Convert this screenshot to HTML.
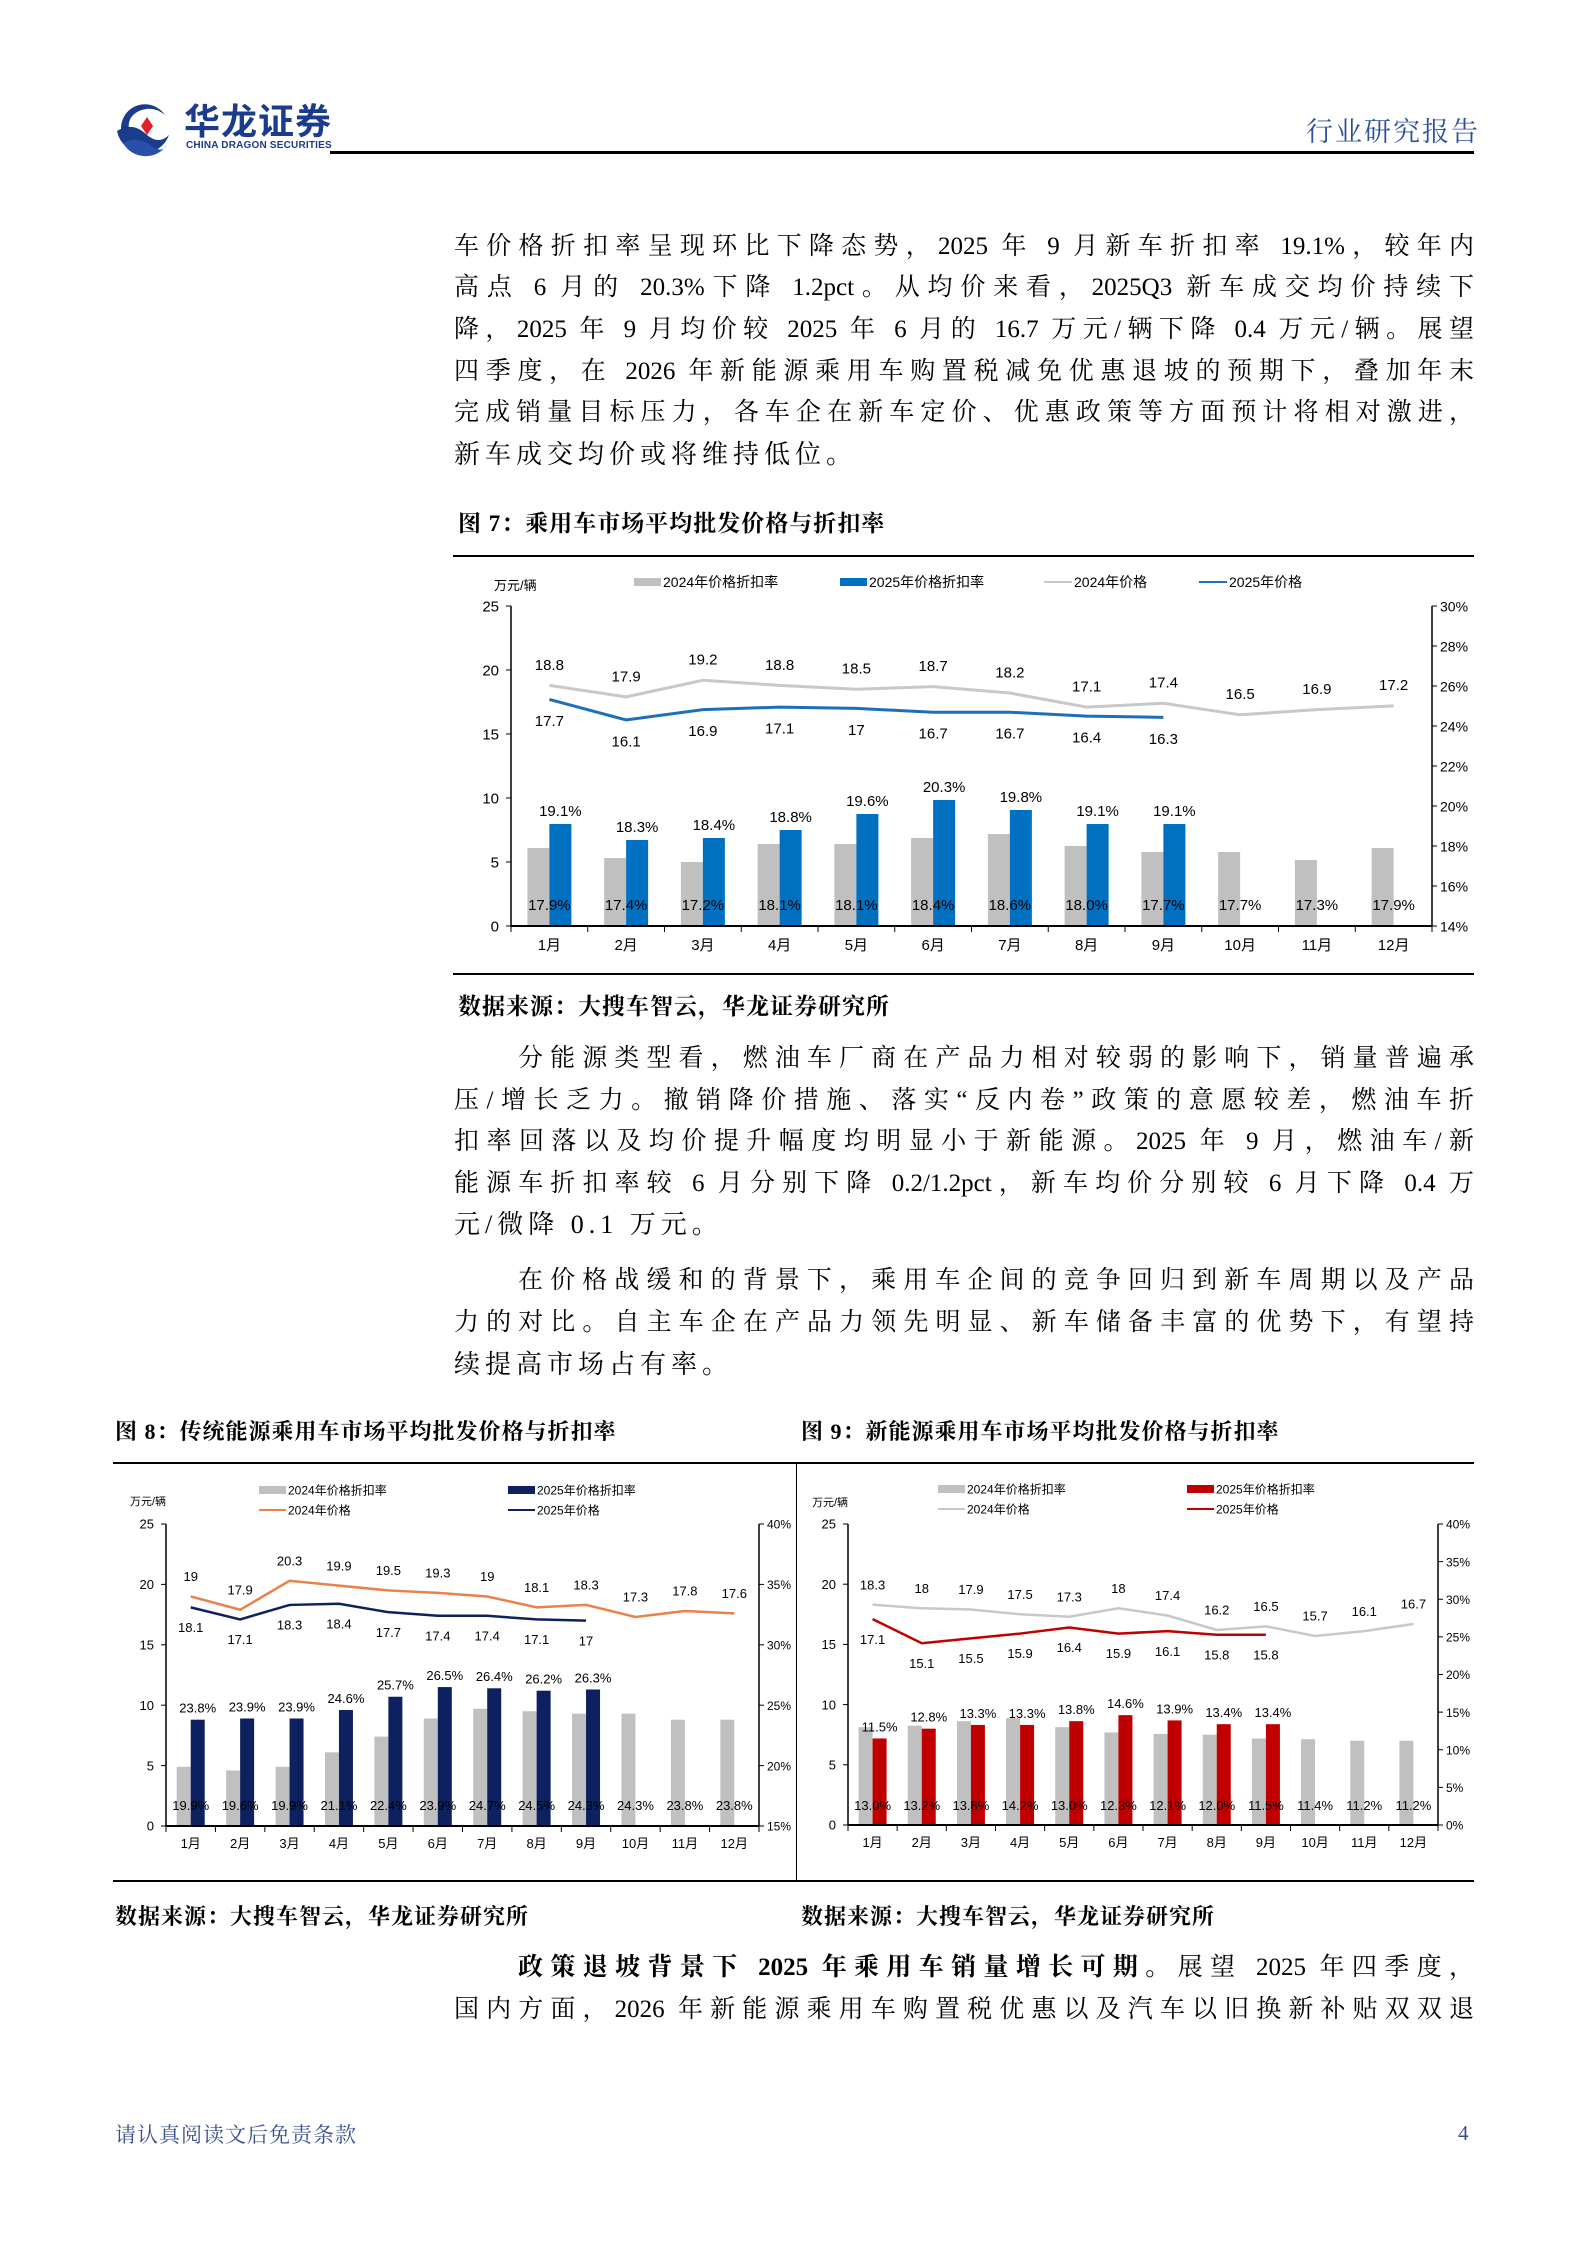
<!DOCTYPE html>
<html><head><meta charset="utf-8">
<style>
body{margin:0;background:#fff;}
#page{position:relative;width:1587px;height:2245px;overflow:hidden;background:#fff;font-family:"Liberation Serif","Noto Serif CJK SC",serif;color:#000;}
.ln{position:absolute;left:454px;width:1020px;height:42px;line-height:42px;font-size:25px;text-align:justify;text-align-last:justify;white-space:nowrap;}
.ln.last{text-align-last:left;font-size:26px;letter-spacing:5px;}
.ind{left:518px;width:956px;}
.cap{position:absolute;font-size:23px;font-weight:bold;line-height:30px;white-space:nowrap;letter-spacing:1px;}
.rule{position:absolute;background:#000;}
svg text{font-family:"Liberation Sans","Noto Sans CJK SC",sans-serif;}
</style></head><body>
<div id="page">

<svg style="position:absolute;left:113px;top:99px" width="60" height="58" viewBox="0 0 60 58">
 <path d="M8 30 A24 24 0 0 1 52 16 Q40 6 26 12 Q14 18 16 30 Z" fill="#1b3b8c"/>
 <path d="M4 32 Q20 22 34 36 Q46 46 56 36 A27 27 0 0 1 4 32 Z" fill="#1b3b8c"/>
 <path d="M10 44 Q26 36 40 48 Q50 54 54 46 A26 26 0 0 1 10 44 Z" fill="#2a4fa8"/>
 <polygon points="34,18 40,27 34,36 28,27" fill="#e0202a"/>
</svg>
<div style="position:absolute;left:184px;top:102px;font-family:'Liberation Sans','Noto Sans CJK SC',sans-serif;font-weight:bold;font-size:36px;line-height:40px;color:#1b3b8c;letter-spacing:1px">华龙证券</div>
<div style="position:absolute;left:186px;top:140px;font-family:'Liberation Sans',sans-serif;font-weight:bold;font-size:10px;color:#1b3b8c;letter-spacing:0.2px">CHINA DRAGON SECURITIES</div>
<div class="rule" style="left:330px;top:151px;width:1144px;height:3px"></div>
<div style="position:absolute;left:1306px;top:116px;font-size:27px;line-height:32px;color:#2a4f9c;letter-spacing:2px">行业研究报告</div>

<div class="ln" style="top:226px">车价格折扣率呈现环比下降态势，2025 年 9 月新车折扣率 19.1%，较年内</div>
<div class="ln" style="top:267px">高点 6 月的 20.3%下降 1.2pct。从均价来看，2025Q3 新车成交均价持续下</div>
<div class="ln" style="top:309px">降，2025 年 9 月均价较 2025 年 6 月的 16.7 万元/辆下降 0.4 万元/辆。展望</div>
<div class="ln" style="top:351px">四季度，在 2026 年新能源乘用车购置税减免优惠退坡的预期下，叠加年末</div>
<div class="ln" style="top:392px">完成销量目标压力，各车企在新车定价、优惠政策等方面预计将相对激进，</div>
<div class="ln last" style="top:434px">新车成交均价或将维持低位。</div>

<div class="cap" style="left:458px;top:509px">图 7：乘用车市场平均批发价格与折扣率</div>
<div class="rule" style="left:453px;top:555px;width:1021px;height:2px"></div>
<div class="rule" style="left:453px;top:973px;width:1021px;height:2px"></div>
<div class="cap" style="left:458px;top:992px">数据来源：大搜车智云，华龙证券研究所</div>

<div class="ln ind" style="top:1038px">分能源类型看，燃油车厂商在产品力相对较弱的影响下，销量普遍承</div>
<div class="ln" style="top:1080px">压/增长乏力。撤销降价措施、落实“反内卷”政策的意愿较差，燃油车折</div>
<div class="ln" style="top:1121px">扣率回落以及均价提升幅度均明显小于新能源。2025 年 9 月，燃油车/新</div>
<div class="ln" style="top:1163px">能源车折扣率较 6 月分别下降 0.2/1.2pct，新车均价分别较 6 月下降 0.4 万</div>
<div class="ln last" style="top:1204px">元/微降 0.1 万元。</div>
<div class="ln ind" style="top:1260px">在价格战缓和的背景下，乘用车企间的竞争回归到新车周期以及产品</div>
<div class="ln" style="top:1302px">力的对比。自主车企在产品力领先明显、新车储备丰富的优势下，有望持</div>
<div class="ln last" style="top:1344px">续提高市场占有率。</div>

<div class="cap" style="left:115px;top:1417px;font-size:22px">图 8：传统能源乘用车市场平均批发价格与折扣率</div>
<div class="cap" style="left:801px;top:1417px;font-size:22px">图 9：新能源乘用车市场平均批发价格与折扣率</div>
<div class="rule" style="left:113px;top:1462px;width:1361px;height:2px"></div>
<div class="rule" style="left:113px;top:1880px;width:1361px;height:2px"></div>
<div class="rule" style="left:796px;top:1462px;width:1px;height:420px"></div>
<div class="cap" style="left:115px;top:1902px;font-size:22px">数据来源：大搜车智云，华龙证券研究所</div>
<div class="cap" style="left:801px;top:1902px;font-size:22px">数据来源：大搜车智云，华龙证券研究所</div>

<div class="ln ind" style="top:1947px"><b>政策退坡背景下 2025 年乘用车销量增长可期。</b>展望 2025 年四季度，</div>
<div class="ln" style="top:1989px">国内方面，2026 年新能源乘用车购置税优惠以及汽车以旧换新补贴双双退</div>

<div style="position:absolute;left:115px;top:2120px;font-size:21px;line-height:30px;color:#3a4f8a;letter-spacing:1px">请认真阅读文后免责条款</div>
<div style="position:absolute;left:1458px;top:2118px;font-size:21px;line-height:30px;color:#3a4f8a">4</div>

<svg id="charts" style="position:absolute;left:0;top:0" width="1587" height="2245"></svg>
</div>
<script>
const months = ["1月","2月","3月","4月","5月","6月","7月","8月","9月","10月","11月","12月"];
// Figure 7
const f7Price2024 = [18.8,17.9,19.2,18.8,18.5,18.7,18.2,17.1,17.4,16.5,16.9,17.2];
const f7Price2025 = [17.7,16.1,16.9,17.1,17,16.7,16.7,16.4,16.3];
const f7Rate2024 = [17.9,17.4,17.2,18.1,18.1,18.4,18.6,18.0,17.7,17.7,17.3,17.9];
const f7Rate2025 = [19.1,18.3,18.4,18.8,19.6,20.3,19.8,19.1,19.1];
const f7LeftTicks = [0,5,10,15,20,25];
const f7RightTicks = [14,16,18,20,22,24,26,28,30];
// Figure 8
const f8Price2024 = [19,17.9,20.3,19.9,19.5,19.3,19,18.1,18.3,17.3,17.8,17.6];
const f8Price2025 = [18.1,17.1,18.3,18.4,17.7,17.4,17.4,17.1,17];
const f8Rate2024 = [19.9,19.6,19.9,21.1,22.4,23.9,24.7,24.5,24.3,24.3,23.8,23.8];
const f8Rate2025 = [23.8,23.9,23.9,24.6,25.7,26.5,26.4,26.2,26.3];
const f8LeftTicks = [0,5,10,15,20,25];
const f8RightTicks = [15,20,25,30,35,40];
// Figure 9
const f9Price2024 = [18.3,18,17.9,17.5,17.3,18,17.4,16.2,16.5,15.7,16.1,16.7];
const f9Price2025 = [17.1,15.1,15.5,15.9,16.4,15.9,16.1,15.8,15.8];
const f9Rate2024 = [13.0,13.2,13.8,14.2,13.0,12.3,12.1,12.0,11.5,11.4,11.2,11.2];
const f9Rate2025 = [11.5,12.8,13.3,13.3,13.8,14.6,13.9,13.4,13.4];
const f9LeftTicks = [0,5,10,15,20,25];
const f9RightTicks = [0,5,10,15,20,25,30,35,40];

const NS = "http://www.w3.org/2000/svg";
const svg = document.getElementById('charts');
function mk(tag, attrs, parent){
  const e = document.createElementNS(NS, tag);
  for (const k in attrs) e.setAttribute(k, attrs[k]);
  (parent||svg).appendChild(e);
  return e;
}
function txt(s, x, y, size, anchor, parent, fill){
  const t = mk('text', {x:x, y:y, 'font-size':size, 'text-anchor':anchor||'middle', fill:fill||'#000'}, parent);
  t.textContent = s;
  return t;
}
function fmt1(v){ return v.toFixed(1); }

function drawChart(c){
  const g = mk('g', {});
  
  
  const n = months.length;
  const cw = (c.x1 - c.x0) / n;
  const xc = i => c.x0 + cw*(i+0.5);
  const yL = v => c.y0 - (v - c.lmin)/(c.lmax - c.lmin)*(c.y0 - c.y1);
  const yR = v => c.y0 - (v - c.rmin)/(c.rmax - c.rmin)*(c.y0 - c.y1);
  c.rate24.forEach((v,i)=>{
    const r = mk('rect', {x:xc(i)-c.bw, y:yR(v), width:c.bw, height:c.y0-yR(v), fill:'#c0c0c0'}, g);
    
    
  });
  c.rate25.forEach((v,i)=>{
    const r = mk('rect', {x:xc(i), y:yR(v), width:c.bw, height:c.y0-yR(v), fill:c.barColor}, g);
    
    
  });
  const p24 = c.price24.map((v,i)=>xc(i)+','+yL(v)).join(' ');
  const l1 = mk('polyline', {points:p24, fill:'none', stroke:c.line24, 'stroke-width':c.lw}, g);
  
  
  const p25 = c.price25.map((v,i)=>xc(i)+','+yL(v)).join(' ');
  const l2 = mk('polyline', {points:p25, fill:'none', stroke:c.line25, 'stroke-width':c.lw}, g);
  
  
  mk('line', {x1:c.x0, y1:c.y1, x2:c.x0, y2:c.y0, stroke:'#000', 'stroke-width':1.5}, g);
  mk('line', {x1:c.x1, y1:c.y1, x2:c.x1, y2:c.y0, stroke:'#000', 'stroke-width':1.5}, g);
  mk('line', {x1:c.x0, y1:c.y0, x2:c.x1, y2:c.y0, stroke:'#000', 'stroke-width':2}, g);
  c.lt.forEach(v=>{
    mk('line', {x1:c.x0-5, y1:yL(v), x2:c.x0, y2:yL(v), stroke:'#000'}, g);
    const t = txt(String(v), c.x0-12, yL(v)+c.ts*0.36, c.ts, 'end', g);
    
    
  });
  c.rt.forEach(v=>{
    mk('line', {x1:c.x1, y1:yR(v), x2:c.x1+5, y2:yR(v), stroke:'#000'}, g);
    const t = txt(v+'%', c.x1+8, yR(v)+c.ts*0.36, c.ts-1, 'start', g);
    
    
  });
  for (let i=0;i<=n;i++) mk('line', {x1:c.x0+cw*i, y1:c.y0, x2:c.x0+cw*i, y2:c.y0+6, stroke:'#000'}, g);
  months.forEach((m,i)=>{
    const t = txt(m, xc(i), c.y0+c.my, c.ts, 'middle', g);
    
    
  });
  c.rate24.forEach((v,i)=>{
    const t = txt(fmt1(v)+'%', xc(i), c.y0-c.rl, c.ls, 'middle', g);
    
    
  });
  c.rate25.forEach((v,i)=>{
    const t = txt(fmt1(v)+'%', xc(i)+c.bw/2, yR(v)-c.ls*0.55, c.ls, 'middle', g);
    
    
  });
  c.price24.forEach((v,i)=>{
    const t = txt(String(v), xc(i), yL(v)-c.po+c.ls*0.36, c.ls, 'middle', g);
    
    
  });
  c.price25.forEach((v,i)=>{
    const t = txt(String(v), xc(i), yL(v)+c.po+c.ls*0.36, c.ls, 'middle', g);
    
    
  });
  const u = txt('万元/辆', c.ux, c.uy, c.ls-2, 'start', g);
  
  
  c.legend.forEach(L=>{
    const lg = mk('g', {}, g);
    
    
    if (L.bar) mk('rect', {x:L.x, y:L.y-4, width:L.w, height:8, fill:L.color}, lg);
    else mk('line', {x1:L.x, y1:L.y, x2:L.x+L.w, y2:L.y, stroke:L.color, 'stroke-width':2}, lg);
    txt(L.t, L.x+L.w+2, L.y+c.lgs*0.36, c.lgs, 'start', lg);
  });
}

drawChart({name:'figure-7-chart', x0:511, x1:1432, y0:926, y1:606, lmin:0, lmax:25, rmin:14, rmax:30,
  lt:f7LeftTicks, rt:f7RightTicks, price24:f7Price2024, price25:f7Price2025, rate24:f7Rate2024, rate25:f7Rate2025,
  barColor:'#0070c0', line24:'#c8c8c8', line25:'#1f6fb8', lw:3, bw:22, ts:15, ls:15, my:24, rl:16, po:21,
  ux:494, uy:590, lgs:14,
  legend:[{x:634,y:582,w:27,bar:1,color:'#c0c0c0',t:'2024年价格折扣率'},{x:840,y:582,w:27,bar:1,color:'#0070c0',t:'2025年价格折扣率'},
          {x:1044,y:582,w:28,bar:0,color:'#c8c8c8',t:'2024年价格'},{x:1199,y:582,w:28,bar:0,color:'#1f6fb8',t:'2025年价格'}]});

drawChart({name:'figure-8-chart', x0:166, x1:759, y0:1826, y1:1524, lmin:0, lmax:25, rmin:15, rmax:40,
  lt:f8LeftTicks, rt:f8RightTicks, price24:f8Price2024, price25:f8Price2025, rate24:f8Rate2024, rate25:f8Rate2025,
  barColor:'#0d2160', line24:'#e8824a', line25:'#0d2160', lw:2.5, bw:14, ts:13, ls:13, my:22, rl:16, po:20,
  ux:130, uy:1505, lgs:12,
  legend:[{x:259,y:1490,w:27,bar:1,color:'#c0c0c0',t:'2024年价格折扣率'},{x:508,y:1490,w:27,bar:1,color:'#0d2160',t:'2025年价格折扣率'},
          {x:259,y:1510,w:27,bar:0,color:'#e8824a',t:'2024年价格'},{x:508,y:1510,w:27,bar:0,color:'#0d2160',t:'2025年价格'}]});

drawChart({name:'figure-9-chart', x0:848, x1:1438, y0:1825, y1:1524, lmin:0, lmax:25, rmin:0, rmax:40,
  lt:f9LeftTicks, rt:f9RightTicks, price24:f9Price2024, price25:f9Price2025, rate24:f9Rate2024, rate25:f9Rate2025,
  barColor:'#c00000', line24:'#c8c8c8', line25:'#c00000', lw:2.5, bw:14, ts:13, ls:13, my:22, rl:15, po:20,
  ux:812, uy:1506, lgs:12,
  legend:[{x:938,y:1489,w:27,bar:1,color:'#c0c0c0',t:'2024年价格折扣率'},{x:1187,y:1489,w:27,bar:1,color:'#c00000',t:'2025年价格折扣率'},
          {x:938,y:1509,w:27,bar:0,color:'#c8c8c8',t:'2024年价格'},{x:1187,y:1509,w:27,bar:0,color:'#c00000',t:'2025年价格'}]});
</script>
</body></html>
